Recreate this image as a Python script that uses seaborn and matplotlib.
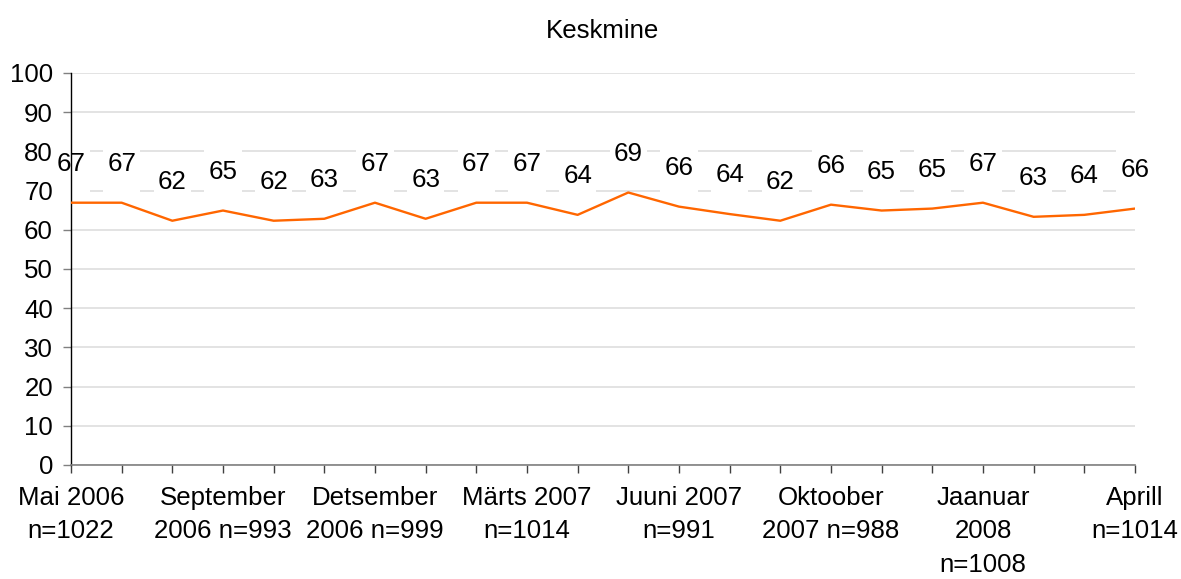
import matplotlib
matplotlib.use("Agg")
import matplotlib.pyplot as plt
from matplotlib.patches import Rectangle
import seaborn as sns
import pandas as pd

months = ["Mai 2006", "Jun 2006", "Aug 2006", "September 2006", "Okt 2006", "Nov 2006",
          "Detsember 2006", "Jan 2007", "Feb 2007", "Märts 2007", "Apr 2007", "Mai 2007",
          "Juuni 2007", "Aug 2007", "Sep 2007", "Oktoober 2007", "Nov 2007", "Dec 2007",
          "Jaanuar 2008", "Feb 2008", "Mar 2008", "Aprill 2008"]
values = [66.9, 66.9, 62.3, 64.9, 62.3, 62.8, 66.9, 62.8, 66.9, 66.9, 63.8,
          69.5, 65.9, 64.0, 62.3, 66.4, 64.9, 65.4, 66.9, 63.3, 63.8, 65.4]
labels = [67, 67, 62, 65, 62, 63, 67, 63, 67, 67, 64,
          69, 66, 64, 62, 66, 65, 65, 67, 63, 64, 66]
tick_labels = ["Mai 2006\nn=1022", "", "", "September\n2006 n=993", "", "",
               "Detsember\n2006 n=999", "", "", "Märts 2007\nn=1014", "", "",
               "Juuni 2007\nn=991", "", "", "Oktoober\n2007 n=988", "", "",
               "Jaanuar\n2008\nn=1008", "", "", "Aprill\nn=1014"]
title = "Keskmine"

sns.set_theme(style="white")
plt.rcParams["font.family"] = ["Liberation Sans", "DejaVu Sans"]

FS = 18.6

df = pd.DataFrame({"idx": range(len(values)), "value": values, "month": months})

fig = plt.figure(figsize=(11.81, 5.79), dpi=100)
ax = fig.add_axes([0.0601, 0.197, 0.961 - 0.0601, 0.874 - 0.197])

sns.lineplot(data=df, x="idx", y="value", color="#FF6600", linewidth=1.7, ax=ax, zorder=3)

ax.set_xlim(0, len(values) - 1)
ax.set_ylim(0, 100)
ax.set_yticks(range(0, 101, 10))
ax.set_xticks(df["idx"])
ax.set_xticklabels(tick_labels, fontsize=FS, color="black", linespacing=1.5)
ax.tick_params(axis="y", labelsize=FS, colors="#808080", labelcolor="black",
               length=6, width=1, pad=7, left=True, direction="out")
ax.tick_params(axis="x", colors="#404040", labelcolor="black",
               length=6, width=1, pad=9, bottom=True, direction="out")
ax.set_xlabel("")
ax.set_ylabel("")

ax.set_axisbelow(True)
ax.yaxis.grid(True, color="#e3e3e3", linewidth=1.4, zorder=0)
ax.xaxis.grid(False)

for s in ["top", "right"]:
    ax.spines[s].set_visible(False)
ax.spines["left"].set_color("black")
ax.spines["left"].set_linewidth(1.0)
ax.spines["bottom"].set_color("#808080")
ax.spines["bottom"].set_linewidth(1.2)

for i, (v, lab) in enumerate(zip(values, labels)):
    ax.add_patch(Rectangle((i - 0.37, v + 2.6), 0.74, 13.2, facecolor="white",
                           edgecolor="none", zorder=1, clip_on=False))
    ax.annotate(str(lab), (i, v), xytext=(0, 28), textcoords="offset points",
                ha="center", va="center", fontsize=FS, color="black", zorder=4,
                annotation_clip=False)

ax.set_title(title, fontsize=FS, color="black", pad=25)

fig.savefig("out.png", dpi=100)
